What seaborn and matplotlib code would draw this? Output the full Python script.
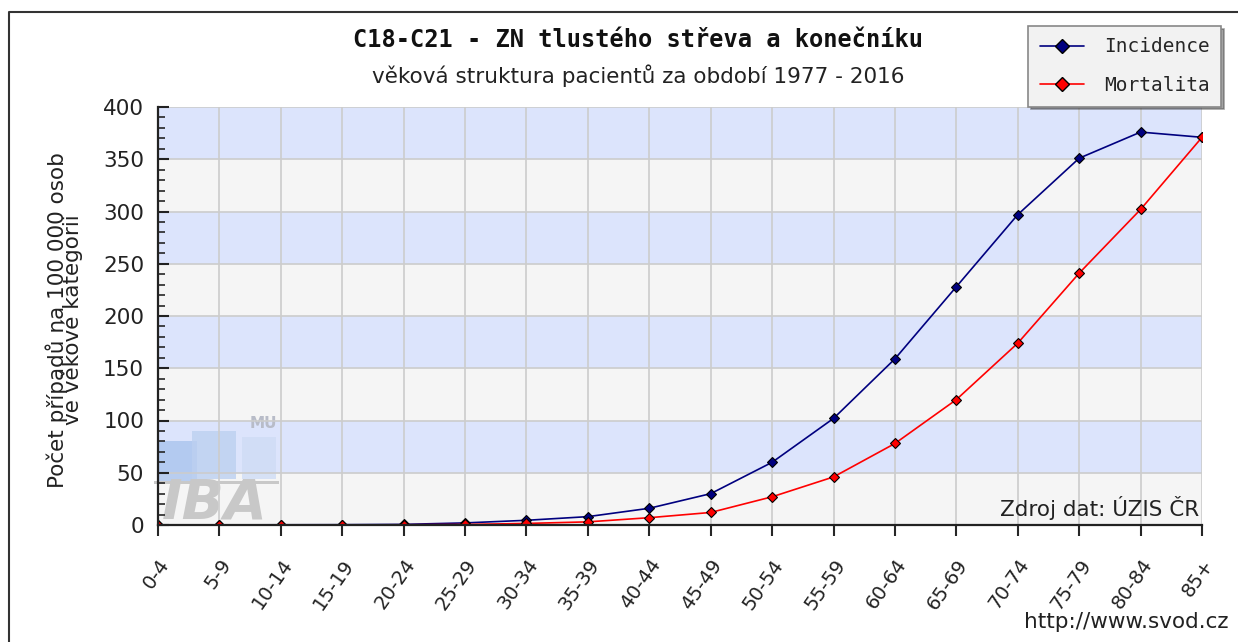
import matplotlib
matplotlib.use("Agg")
import matplotlib.pyplot as plt
import seaborn as sns
import pandas as pd
from matplotlib.patches import Rectangle
from matplotlib.lines import Line2D

categories = ["0-4", "5-9", "10-14", "15-19", "20-24", "25-29", "30-34", "35-39",
              "40-44", "45-49", "50-54", "55-59", "60-64", "65-69", "70-74",
              "75-79", "80-84", "85+"]
incidence = [0.1, 0.1, 0.2, 0.3, 0.6, 2, 4.5, 8, 16, 30, 60, 102, 159, 228, 297, 351, 376, 371]
mortalita = [0.0, 0.0, 0.1, 0.1, 0.2, 0.5, 1.5, 3, 7, 12, 27, 46, 78, 120, 174, 241, 302, 371]
series_names = ["Incidence", "Mortalita"]

df = pd.DataFrame({
    "x": list(range(len(categories))) * 2,
    "value": incidence + mortalita,
    "series": [series_names[0]] * len(categories) + [series_names[1]] * len(categories),
})

sns.set_theme(style="white")
plt.rcParams['font.family'] = ['DejaVu Sans']

fig = plt.figure(figsize=(12.38, 6.42), dpi=100)
ax = fig.add_axes([158/1238, 1-525/642, (1202-158)/1238, (525-107)/642])

# background bands
for k in range(8):
    col = "#f5f5f5" if k % 2 == 0 else "#dce4fc"
    ax.axhspan(k*50, (k+1)*50, color=col, zorder=0, lw=0)

# watermark
for (x0, y0, w, h, c) in [(0.0, 0.10, 0.037, 0.10, "#a9c4ee"),
                          (0.033, 0.11, 0.042, 0.115, "#bcd0f0"),
                          (0.08, 0.11, 0.033, 0.10, "#cfdcf5")]:
    ax.add_patch(Rectangle((x0, y0), w, h, transform=ax.transAxes,
                           color=c, alpha=0.8, zorder=0.3, lw=0))
ax.add_patch(Rectangle((-0.004, 0.098), 0.12, 0.008, transform=ax.transAxes,
                       color="#c8c8c8", zorder=0.3, lw=0, clip_on=False))
ax.text(0.004, -0.012, "IBA", transform=ax.transAxes, fontsize=40, fontweight="bold",
        style="italic", color="#c8c8c8", zorder=0.3, ha="left", va="bottom")
ax.text(0.088, 0.225, "MU", transform=ax.transAxes, fontsize=11, fontweight="bold",
        color="#b8bcc8", zorder=0.3, ha="left", va="bottom")

# grid
for i in range(len(categories)):
    ax.axvline(i, color="#cccccc", lw=1.2, zorder=0.5)
for v in range(50, 401, 50):
    ax.axhline(v, color="#cccccc", lw=1.2, zorder=0.5)

sns.lineplot(data=df, x="x", y="value", hue="series", palette=["#00007f", "#ff0000"],
             marker="D", markersize=5.5, markeredgecolor="black", markeredgewidth=0.8,
             lw=1.2, ax=ax, legend=False, zorder=3)

ax.set_xlim(0, len(categories)-1)
ax.set_ylim(0, 400)
ax.set_xticks(range(len(categories)))
ax.set_xticklabels(categories, rotation=55, ha="right", rotation_mode="anchor",
                   fontsize=14, color="#222222")
ax.set_yticks(range(0, 401, 50))
ax.set_yticks(range(0, 401, 10), minor=True)
ax.tick_params(axis="y", which="major", direction="in", length=8, width=1.5,
               labelsize=15.5, colors="#222222", left=True, pad=10)
ax.tick_params(axis="y", which="minor", direction="in", length=5, width=1.2, left=True)
ax.tick_params(axis="x", which="major", direction="out", length=8, width=1.5,
               labelsize=14, bottom=True, pad=14)
for s in ["top", "right"]:
    ax.spines[s].set_visible(False)
for s in ["left", "bottom"]:
    ax.spines[s].set_color("#222222")
    ax.spines[s].set_linewidth(1.6)
    ax.spines[s].set_zorder(4)
ax.set_xlabel("")
ax.set_ylabel("")

fig.text(64/1238, 1-320/642, "Počet případů na 100 000 osob\nve věkové kategorii",
         rotation=90, ha="center", va="center", fontsize=15.5, linespacing=0.6,
         color="#222222")

fig.text(638/1238, 1-40/642, "C18-C21 - ZN tlustého střeva a konečníku",
         ha="center", va="center", fontsize=17, fontweight="bold",
         family="DejaVu Sans Mono", color="#111111")
fig.text(638/1238, 1-76/642, "věková struktura pacientů za období 1977 - 2016",
         ha="center", va="center", fontsize=15.5, color="#222222")

ax.text(0.997, 0.04, "Zdroj dat: ÚZIS ČR", transform=ax.transAxes, ha="right",
        va="center", fontsize=15.5, color="#222222", zorder=5)
fig.text(1228/1238, 1-622/642, "http://www.svod.cz", ha="right", va="center",
         fontsize=15.5, color="#222222")

# legend
handles = [Line2D([], [], color="#00007f", marker="D", markersize=7,
                  markeredgecolor="black", lw=1.2),
           Line2D([], [], color="#ff0000", marker="D", markersize=7,
                  markeredgecolor="black", lw=1.2)]
leg = fig.legend(handles, series_names, loc="upper right",
                 bbox_to_anchor=(1231/1238, 1-16/642), frameon=True, fancybox=False,
                 shadow=True, facecolor="#f2f2f2", edgecolor="#888888",
                 prop={"family": "DejaVu Sans Mono", "size": 14},
                 borderpad=0.6, labelspacing=1.0, handlelength=2.3, handletextpad=1.0)
leg.get_frame().set_linewidth(1.2)

# frame around image
fig.add_artist(Line2D([9/1238, 9/1238, 1.0], [0.0, 1-12/642, 1-12/642],
                      transform=fig.transFigure, color="#333333", lw=1.5))

fig.savefig("out.png", dpi=100, facecolor="white")
